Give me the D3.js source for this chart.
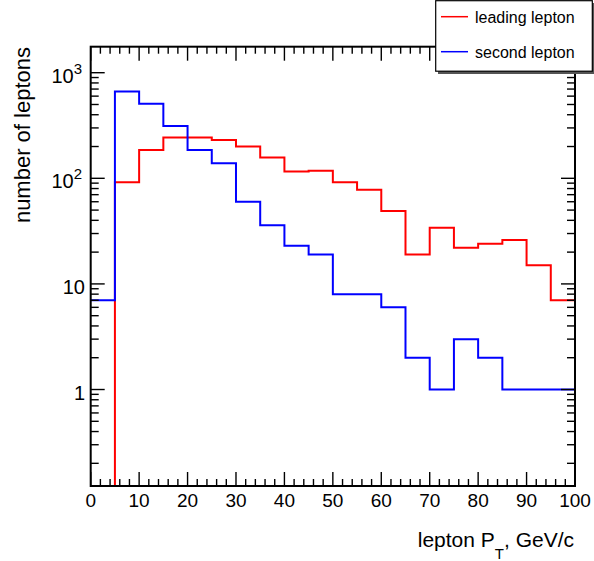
<!DOCTYPE html>
<html>
<head>
<meta charset="utf-8">
<script src="https://cdn.jsdelivr.net/npm/d3@7"></script>
<style>
  body { margin: 0; background: #fff; }
  svg { display: block; font-family: "Liberation Sans", Arial, sans-serif; }
</style>
</head>
<body>
<svg id="chart" width="594" height="561"></svg>
<script>
// bin lower edges (GeV/c), bin width 5
const binEdges = [0, 5, 10, 15, 20, 25, 30, 35, 40, 45, 50, 55, 60, 65, 70, 75, 80, 85, 90, 95];
const leading = [0, 92, 185, 243, 243, 230, 200, 157, 116, 118, 92, 78, 49, 19, 34, 22, 24, 26, 15, 7];
const second  = [7, 662, 509, 313, 185, 139, 60, 36, 23, 19, 8, 8, 6, 2, 1, 3, 2, 1, 1, 1];
const xTickLabels = [0, 10, 20, 30, 40, 50, 60, 70, 80, 90, 100];
const yMajor = [1, 10, 100, 1000];
const legendNames = ['leading lepton', 'second lepton'];
const COLORS = ['#ff0000', '#0000ff'];

const L = 90.7, R = 575, T = 46.7, B = 486;
const yMin = 0.122, yMax = 1763;

const svg = d3.select('#chart');
const x = d3.scaleLinear().domain([0, 100]).range([L, R]);
const y = d3.scaleLog().domain([yMin, yMax]).range([B, T]);

// histograms
const line = d3.line()
  .x(d => x(d[0]))
  .y(d => y(Math.max(d[1], yMin)))
  .curve(d3.curveStepAfter);

[leading, second].forEach((vals, i) => {
  const pts = binEdges.map((e, j) => [e, vals[j]]);
  pts.push([100, vals[vals.length - 1]]);
  svg.append('path').attr('d', line(pts))
    .attr('fill', 'none').attr('stroke', COLORS[i]).attr('stroke-width', 2);
});

// ticks
const tickG = svg.append('g').attr('stroke', '#000').attr('stroke-width', 1.4);
d3.range(0, 101, 2).forEach(v => {
  const len = v % 10 === 0 ? 14 : 7;
  tickG.append('line').attr('x1', x(v)).attr('x2', x(v)).attr('y1', B).attr('y2', B - len);
  tickG.append('line').attr('x1', x(v)).attr('x2', x(v)).attr('y1', T).attr('y2', T + len);
});
const yMinor = [];
[0.1, 1, 10, 100, 1000].forEach(d => d3.range(2, 10).forEach(k => {
  const v = d * k;
  if (v > yMin && v < yMax) yMinor.push(v);
}));
yMinor.forEach(v => {
  tickG.append('line').attr('x1', L).attr('x2', L + 8).attr('y1', y(v)).attr('y2', y(v));
  tickG.append('line').attr('x1', R).attr('x2', R - 8).attr('y1', y(v)).attr('y2', y(v));
});
yMajor.forEach(v => {
  tickG.append('line').attr('x1', L).attr('x2', L + 14).attr('y1', y(v)).attr('y2', y(v));
  tickG.append('line').attr('x1', R).attr('x2', R - 14).attr('y1', y(v)).attr('y2', y(v));
});

// frame
svg.append('rect').attr('x', L).attr('y', T).attr('width', R - L).attr('height', B - T)
  .attr('fill', 'none').attr('stroke', '#000').attr('stroke-width', 2);

// x tick labels
svg.append('g').selectAll('text').data(xTickLabels).enter().append('text')
  .attr('x', d => x(d)).attr('y', 507).attr('text-anchor', 'middle')
  .attr('font-size', '19px').attr('fill', '#000').text(d => d);

// y tick labels
yMajor.forEach(v => {
  const t = svg.append('text').attr('y', y(v) + 10).attr('font-size', '20px').attr('fill', '#000');
  if (v >= 100) {
    t.attr('x', 82).attr('text-anchor', 'end');
    t.append('tspan').text('10');
    t.append('tspan').attr('font-size', '15px').attr('dy', -9).text(Math.round(Math.log10(v)));
  } else {
    t.attr('x', 85).attr('text-anchor', 'end').text(v);
  }
});

// axis titles
const xt = svg.append('text').attr('x', 574).attr('y', 546.7).attr('text-anchor', 'end')
  .attr('font-size', '21px').attr('fill', '#000');
xt.append('tspan').text('lepton P');
xt.append('tspan').attr('font-size', '15px').attr('dy', 12).text('T');
xt.append('tspan').attr('dy', -12).text(', GeV/c');

svg.append('text').attr('transform', 'translate(30,47) rotate(-90)')
  .attr('text-anchor', 'end').attr('font-size', '22px').attr('fill', '#000')
  .text('number of leptons');

// legend
const lg = svg.append('g');
lg.append('rect').attr('x', 438).attr('y', 3).attr('width', 157).attr('height', 71).attr('fill', '#555');
lg.append('rect').attr('x', 435.7).attr('y', 0.7).attr('width', 156.6).attr('height', 70.5)
  .attr('fill', '#fff').attr('stroke', '#000').attr('stroke-width', 1.2);
legendNames.forEach((n, i) => {
  const cy = 16.7 + i * 35;
  lg.append('line').attr('x1', 441).attr('x2', 468).attr('y1', cy).attr('y2', cy)
    .attr('stroke', COLORS[i]).attr('stroke-width', 1.5);
  lg.append('text').attr('x', 475).attr('y', cy + 5.8).attr('font-size', '16px')
    .attr('fill', '#000').text(n);
});
</script>
</body>
</html>
